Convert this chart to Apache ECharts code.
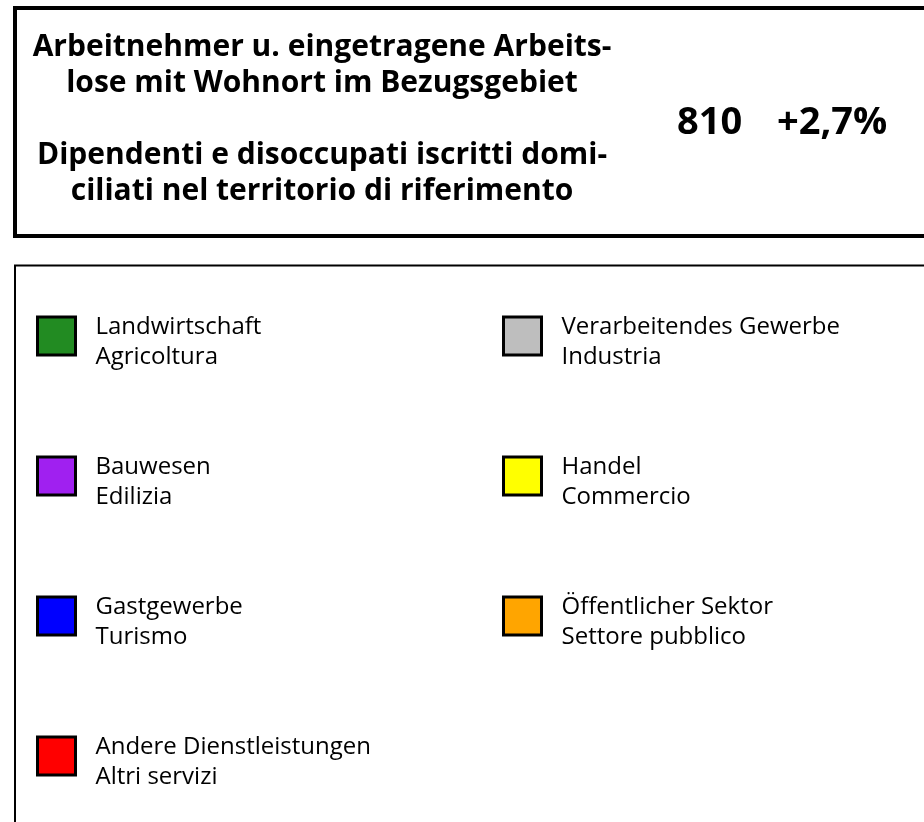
<!DOCTYPE html>
<html>
<head>
<meta charset="utf-8">
<script src="https://cdn.jsdelivr.net/npm/echarts@6/dist/echarts.min.js"></script>
<style>
	html, body { margin: 0; padding: 0; background: #fff; }
	#chart { width: 924px; height: 822px; }
</style>
</head>
<body>
<div id="chart"></div>
<script>
	// Überschrift / titolo
	var titelZeilen = [
		'Arbeitnehmer u. eingetragene Arbeits-',
		'lose mit Wohnort im Bezugsgebiet',
		'',
		'Dipendenti e disoccupati iscritti domi-',
		'ciliati nel territorio di riferimento'
	];
	var gesamtWert = '810';
	var veraenderung = '+2,7%';

	// Sektoren
	var sektorenDe = ['Landwirtschaft', 'Bauwesen', 'Gastgewerbe', 'Andere Dienstleistungen',
		'Verarbeitendes Gewerbe', 'Handel', 'Öffentlicher Sektor'];
	var sektorenIt = ['Agricoltura', 'Edilizia', 'Turismo', 'Altri servizi',
		'Industria', 'Commercio', 'Settore pubblico'];
	var farben = ['#228B22', '#A020F0', '#0000FF', '#FF0000', '#BEBEBE', '#FFFF00', '#FFA500'];

	var spalteLinks = sektorenDe.slice(0, 4);
	var spalteRechts = sektorenDe.slice(4);

	var myChart = echarts.init(document.getElementById('chart'));

	var _series = [];
	for (var i = 0; i < sektorenDe.length; i++) {
		_series.push({
			name: sektorenDe[i],
			type: 'bar',
			data: [],
			itemStyle: { color: farben[i] }
		});
	}

	// Text etwas unter die Mitte des Kästchens schieben (leere Zeile oben)
	function legendeText(name) {
		var idx = sektorenDe.indexOf(name);
		return '{s| }\n' + name + '\n' + sektorenIt[idx];
	}

	var legendeBasis = {
		orient: 'vertical',
		padding: 0,
		icon: 'rect',
		itemWidth: 38,
		itemHeight: 38,
		itemGap: 68,
		selectedMode: false,
		itemStyle: { borderColor: '#000', borderWidth: 3 },
		formatter: legendeText,
		textStyle: {
			fontFamily: 'Open Sans',
			fontSize: 24,
			lineHeight: 30,
			color: '#000',
			padding: [0, 0, 0, 15],
			rich: {
				s: { fontSize: 1, lineHeight: 12 }
			}
		}
	};

	var titelSchrift = {
		fontFamily: 'Open Sans',
		fontSize: 38,
		fontWeight: 'bold',
		lineHeight: 44,
		color: '#000'
	};

	var option = {
		backgroundColor: '#fff',
		animation: false,
		title: [{
			text: titelZeilen.join('\n'),
			left: 322,
			top: 29,
			padding: 0,
			textAlign: 'center',
			textStyle: {
				fontFamily: 'Open Sans',
				fontSize: 30,
				fontWeight: 'bold',
				lineHeight: 36,
				color: '#000'
			}
		}, {
			text: gesamtWert,
			left: 677,
			top: 101,
			padding: 0,
			textStyle: titelSchrift
		}, {
			text: veraenderung,
			left: 777,
			top: 101,
			padding: 0,
			textStyle: titelSchrift
		}],
		legend: [
			Object.assign({}, legendeBasis, { data: spalteLinks, left: 36, top: 300 }),
			Object.assign({}, legendeBasis, { data: spalteRechts, left: 502, top: 300 })
		],
		grid: { left: 0, top: 0, width: 1, height: 1, show: false },
		xAxis: { type: 'category', show: false, data: [] },
		yAxis: { type: 'value', show: false },
		graphic: [{
			type: 'rect',
			silent: true,
			shape: { x: 15, y: 8, width: 940, height: 228 },
			style: { fill: 'none', stroke: '#000', lineWidth: 4 }
		}, {
			type: 'rect',
			silent: true,
			shape: { x: 15, y: 265.5, width: 940, height: 600 },
			style: { fill: 'none', stroke: '#000', lineWidth: 2 }
		}],
		series: _series
	};

	myChart.setOption(option);
</script>
</body>
</html>
